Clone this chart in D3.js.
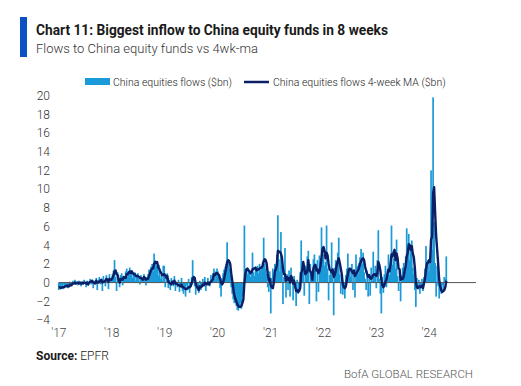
<!DOCTYPE html>
<html>
<head>
<meta charset="utf-8">
<script src="https://cdn.jsdelivr.net/npm/d3@7"></script>
<style>
  body { margin: 0; background: #fff; }
  text { font-family: Roboto, "Open Sans", sans-serif; }
</style>
</head>
<body>
<div id="chart"></div>
<script>
// Weekly flows to China equity funds ($bn), one chunk of 52 weeks per year
var flows2017 = [-0.8,-0.5,-0.6,-0.3,-0.7,-0.2,-0.4,-0.5,-0.1,-0.6,-0.3,0.1,-0.2,-0.4,0.2,-0.1,0.3,-0.2,0.1,-0.3,0.2,0.0,-0.4,0.1,-0.2,0.3,-0.1,-0.5,0.2,-0.3,0.1,0.4,-0.2,0.3,-0.6,0.2,-0.1,0.5,-0.8,0.3,0.6,-0.2,0.4,-0.9,0.7,0.3,-0.4,0.8,0.5,-0.7,0.9,0.4];
var flows2018 = [0.4,0.9,1.3,2.4,0.6,-0.9,1.1,0.3,-0.5,0.8,1.0,-0.3,0.7,0.4,1.2,1.5,0.6,1.0,1.6,0.8,1.2,0.5,0.9,1.1,0.2,0.6,1.0,0.4,-0.2,0.8,0.5,0.1,0.9,0.3,-0.3,0.6,0.9,1.4,1.0,1.7,2.0,1.2,3.1,2.4,1.8,1.6,0.7,1.9,0.4,0.8,0.2,1.8];
var flows2019 = [1.8,-0.5,0.4,1.0,-0.6,0.3,-0.8,0.5,0.2,-0.4,0.7,-0.9,0.1,-0.5,0.3,-1.0,-0.4,0.5,-0.9,-1.2,-0.6,-1.5,-0.3,-0.8,0.4,-1.1,-0.2,0.6,2.4,0.3,-0.4,-1.3,-0.6,-0.2,-1.1,0.2,-0.8,-0.5,0.4,-0.3,0.6,-0.9,-0.2,0.5,0.1,-0.4,0.8,0.3,1.0,1.5,0.4,1.2];
var flows2020 = [1.5,1.2,0.8,-0.6,-1.5,0.5,1.0,1.4,1.7,2.0,4.3,2.2,1.5,0.8,-0.5,-1.2,-1.8,-2.2,-1.5,-2.5,-2.9,-3.0,-2.6,-2.2,-2.8,-1.5,-0.8,6.1,1.2,1.5,0.9,1.4,1.0,0.6,1.3,3.2,1.1,0.7,1.6,1.2,1.8,1.0,2.0,1.3,1.6,2.2,4.8,2.0,1.5,0.9,-0.5,-1.0];
var flows2021 = [1.2,-3.3,0.5,1.5,0.8,2.0,1.4,3.0,7.2,2.5,1.2,5.4,1.8,-2.3,0.6,3.7,-1.6,0.9,-0.8,1.3,-1.5,1.6,0.4,-1.9,0.7,-0.6,-2.5,0.3,-1.2,-0.4,1.1,4.5,1.0,2.2,-1.4,1.8,1.5,2.8,3.4,-2.3,2.0,1.1,0.5,2.5,3.0,1.6,-2.0,2.4,-1.0,2.9,1.8,5.9];
var flows2022 = [2.5,3.0,1.8,2.2,6.1,1.5,-1.9,0.8,1.2,4.3,0.5,-3.5,1.6,2.4,1.9,3.2,4.8,0.9,-1.2,0.6,-1.3,-0.4,-1.7,0.8,1.5,3.1,0.9,1.4,0.6,2.0,-0.8,1.2,-1.6,3.0,1.8,0.9,2.1,2.7,3.6,2.0,3.2,1.1,0.4,-0.8,1.3,-1.5,0.7,-1.4,1.6,0.2,3.3,1.0];
var flows2023 = [1.8,-0.6,2.4,5.6,0.4,-1.2,-3.3,0.6,-1.1,0.9,1.8,-0.5,1.4,3.0,0.8,2.2,6.1,1.9,2.6,3.4,1.5,4.6,0.7,-0.9,1.2,-2.0,0.8,1.6,2.1,0.5,2.8,5.8,3.6,5.2,2.4,3.8,4.5,1.6,0.9,-0.8,-2.6,0.5,-0.7,0.3,-1.2,-0.5,0.4,-0.9,0.6,1.5,3.9,2.2];
var flows2024 = [2.4,1.2,2.8,12.0,3.5,19.8,6.5,2.1,-1.5,1.8,-0.4,-1.7,-0.8,-1.2,-0.3,-1.0,0.6,0.4,2.8];

// 4-week moving average ($bn), also
var ma2017 = [-0.5,-0.5,-0.6,-0.5,-0.5,-0.5,-0.4,-0.4,-0.3,-0.4,-0.4,-0.2,-0.3,-0.2,-0.1,-0.1,0.0,-0.1,0.0,0.0,-0.1,0.0,-0.1,0.0,-0.1,0.0,0.0,-0.1,0.0,-0.2,0.0,0.1,0.1,0.2,0.0,0.0,-0.1,0.2,0.0,0.0,0.1,0.2,0.3,0.0,0.1,0.1,0.2,0.4,0.3,0.1,0.4,0.3];
var ma2018 = [0.3,0.5,0.8,1.2,1.3,0.9,0.8,0.3,0.0,0.4,0.4,0.3,0.6,0.5,0.5,0.9,0.9,1.1,1.2,1.0,1.2,1.0,0.9,0.9,0.7,0.7,0.7,0.6,0.5,0.5,0.4,0.3,0.6,0.5,0.3,0.4,0.4,0.7,1.0,1.3,1.5,1.5,2.0,2.2,2.1,2.2,1.6,1.5,1.2,1.0,0.8,0.8];
var ma2019 = [0.9,0.8,0.5,0.7,0.1,0.0,-0.1,-0.2,0.1,-0.1,0.2,-0.1,-0.1,-0.2,-0.3,-0.3,-0.4,-0.2,-0.5,-0.5,-0.6,-0.7,-0.7,-0.6,-0.5,-0.5,-0.4,-0.1,0.4,0.6,0.5,-0.1,-0.4,-0.6,-0.8,-0.4,-0.5,-0.4,-0.2,-0.3,0.0,-0.1,-0.2,0.0,-0.2,0.0,0.1,0.2,0.4,0.9,0.8,1.0];
var ma2020 = [1.0,0.9,0.8,0.4,0.0,-0.2,0.0,0.4,1.0,1.5,2.2,2.4,2.3,2.0,1.0,0.2,-0.6,-1.3,-1.7,-2.0,-2.3,-2.5,-2.6,-2.6,-2.5,-2.2,-1.8,0.0,1.0,1.4,1.5,1.3,1.2,1.0,1.1,1.4,1.5,1.5,1.6,1.3,1.4,1.4,1.5,1.6,1.6,1.8,2.3,2.5,2.4,2.0,1.0,0.2];
var ma2021 = [0.4,-0.3,-0.5,-0.6,0.0,1.2,1.4,1.9,3.4,3.3,3.3,3.1,2.7,1.5,0.9,0.9,0.2,0.6,0.3,0.5,0.0,0.7,0.5,-0.1,0.2,-0.4,-0.9,-0.8,-1.0,-0.9,-0.6,1.0,1.3,2.2,1.6,0.9,1.0,1.2,2.4,1.4,1.2,1.0,0.3,1.5,1.8,1.9,1.3,1.4,1.0,1.2,1.8,2.6];
var ma2022 = [3.6,3.8,3.4,2.6,3.2,2.9,2.0,1.4,1.3,1.1,1.4,0.6,0.8,1.2,1.9,2.3,2.6,2.1,1.5,0.9,-0.2,-0.5,-0.6,-0.4,0.3,0.9,1.4,1.5,1.4,1.2,1.0,1.3,0.7,0.9,1.1,1.3,1.6,2.0,2.3,2.5,2.6,2.4,1.7,1.2,0.9,0.6,0.8,0.5,0.4,0.6,0.8,0.9];
var ma2023 = [0.9,0.7,1.0,2.2,1.9,1.3,0.3,-0.3,-0.5,-0.3,0.1,0.3,0.9,1.4,1.2,1.9,3.0,2.8,3.2,3.5,2.4,3.1,2.6,1.5,1.4,0.3,0.5,0.4,0.6,1.3,1.8,2.8,3.2,4.1,4.0,3.5,3.9,3.1,2.7,1.6,0.0,-0.5,-0.6,-0.4,-0.4,-0.5,-0.3,-0.6,-0.1,0.4,1.4,2.1];
var ma2024 = [2.1,2.4,2.2,4.6,4.9,9.5,10.2,7.5,5.0,3.5,2.0,0.3,-0.4,-0.8,-1.0,-0.9,-0.8,-0.5,0.2];

// Axis ticks
var yTicks = [-4, -2, 0, 2, 4, 6, 8, 10, 12, 14, 16, 18, 20];
var xTickYears = [2017, 2018, 2019, 2020, 2021, 2022, 2023, 2024];
var xTickLabels = ["'17", "'18", "'19", "'20", "'21", "'22", "'23", "'24"];

var flows = [].concat(flows2017, flows2018, flows2019, flows2020, flows2021, flows2022, flows2023, flows2024);
var ma = [].concat(ma2017, ma2018, ma2019, ma2020, ma2021, ma2022, ma2023, ma2024);

// one point per week, first week ending 4 Jan 2017
var firstWeek = new Date(2017, 0, 4);
var weekly = flows.map(function(v, i) {
    return { date: d3.timeWeek.offset(firstWeek, i), flow: v, ma: ma[i] };
});

var svgWidth = 521;
var svgHeight = 386;

var svg = d3.select("#chart")
    .append("svg")
    .attr("width", svgWidth)
    .attr("height", svgHeight);

// Scales
var xScale = d3.scaleTime()
    .domain([new Date(2017, 0, 1), new Date(2024, 10, 22)])
    .range([58.3, 476]);

var yScale = d3.scaleLinear()
    .domain([-4, 20])
    .range([320, 95.5]);

// Title block
svg.append("rect")
    .attr("x", 20)
    .attr("y", 17)
    .attr("width", 7)
    .attr("height", 40)
    .attr("fill", "#0a52c4");

svg.append("text")
    .attr("x", 36)
    .attr("y", 35)
    .attr("font-size", 14)
    .attr("font-weight", "bold")
    .attr("fill", "#1a1a1a")
    .attr("textLength", 352)
    .attr("lengthAdjust", "spacingAndGlyphs")
    .text("Chart 11: Biggest inflow to China equity funds in 8 weeks");

svg.append("text")
    .attr("x", 36)
    .attr("y", 53)
    .attr("font-size", 13)
    .attr("font-weight", 300)
    .attr("fill", "#333")
    .attr("textLength", 222)
    .attr("lengthAdjust", "spacingAndGlyphs")
    .text("Flows to China equity funds vs 4wk-ma");

// Legend
var legend = svg.append("g");
legend.append("rect")
    .attr("x", 85)
    .attr("y", 78)
    .attr("width", 25)
    .attr("height", 7)
    .attr("fill", "#1a9ad8");
legend.append("text")
    .attr("x", 113)
    .attr("y", 85.5)
    .attr("font-size", 10.5)
    .attr("font-weight", 300)
    .attr("fill", "#222")
    .text("China equities flows ($bn)");
legend.append("line")
    .attr("x1", 244)
    .attr("x2", 269)
    .attr("y1", 82)
    .attr("y2", 82)
    .attr("stroke", "#0b1f66")
    .attr("stroke-width", 2.5);
legend.append("text")
    .attr("x", 273)
    .attr("y", 85.5)
    .attr("font-size", 10.5)
    .attr("font-weight", 300)
    .attr("fill", "#222")
    .text("China equities flows 4-week MA ($bn)");

// Y axis, labels only
var yAxis = svg.append("g")
    .attr("transform", "translate(51, 0)")
    .call(d3.axisLeft(yScale).tickValues(yTicks).tickSize(0).tickPadding(1));
yAxis.select(".domain").remove();
yAxis.selectAll("text")
    .attr("font-family", "Roboto, sans-serif")
    .attr("font-size", 12)
    .attr("font-weight", 300)
    .attr("fill", "#333");

// X axis, labels only
var xAxis = svg.append("g")
    .attr("transform", "translate(0, 320)")
    .call(d3.axisBottom(xScale)
        .tickValues(xTickYears.map(function(y) { return new Date(y, 0, 1); }))
        .tickFormat(function(d, i) { return xTickLabels[i]; })
        .tickSize(0)
        .tickPadding(8));
xAxis.select(".domain").remove();
xAxis.selectAll("text")
    .attr("font-family", "Roboto, sans-serif")
    .attr("font-size", 12)
    .attr("font-weight", 300)
    .attr("fill", "#444");

// weekly flow bars (slightly wider than a week so the fill closes up)
var barWidth = 1.7;
svg.append("g")
    .selectAll("rect")
    .data(weekly)
    .join("rect")
    .attr("x", function(d) { return xScale(d.date) - barWidth / 2; })
    .attr("y", function(d) { return yScale(Math.max(0, d.flow)); })
    .attr("width", barWidth)
    .attr("height", function(d) { return Math.abs(yScale(d.flow) - yScale(0)); })
    .attr("fill", "#1a9ad8");

// zero line
svg.append("line")
    .attr("x1", xScale(firstWeek))
    .attr("x2", xScale.range()[1])
    .attr("y1", yScale(0))
    .attr("y2", yScale(0))
    .attr("stroke", "#555")
    .attr("stroke-width", 1);

// 4-week MA line
var maLine = d3.line()
    .x(function(d) { return xScale(d.date); })
    .y(function(d) { return yScale(d.ma); });

svg.append("path")
    .datum(weekly)
    .attr("d", maLine)
    .attr("fill", "none")
    .attr("stroke", "#0b1f66")
    .attr("stroke-width", 2.4)
    .attr("stroke-linejoin", "round");

// Footer
svg.append("text")
    .attr("x", 36)
    .attr("y", 360)
    .attr("font-size", 12)
    .attr("fill", "#1a1a1a")
    .call(function(t) {
        t.append("tspan").attr("font-weight", "bold").text("Source:");
        t.append("tspan").attr("font-weight", 300).text(" EPFR");
    });

svg.append("text")
    .attr("x", 473)
    .attr("y", 378)
    .attr("text-anchor", "end")
    .attr("font-size", 11.5)
    .attr("font-weight", 300)
    .attr("fill", "#555")
    .text("BofA GLOBAL RESEARCH");
</script>
</body>
</html>
